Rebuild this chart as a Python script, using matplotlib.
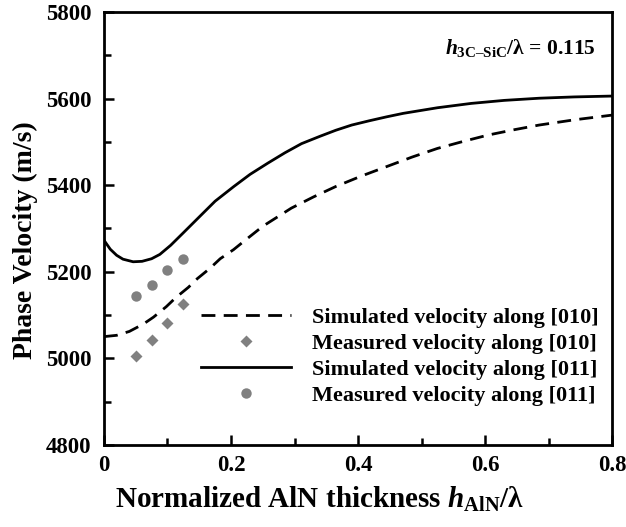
import numpy as np
import matplotlib
matplotlib.use("Agg")
import matplotlib.pyplot as plt
from matplotlib.ticker import MultipleLocator, FuncFormatter

plt.rcParams['font.family'] = ['Liberation Serif', 'DejaVu Serif']
plt.rcParams['font.weight'] = 'bold'
plt.rcParams['mathtext.fontset'] = 'custom'
plt.rcParams['mathtext.rm'] = 'Liberation Serif:bold'
plt.rcParams['mathtext.it'] = 'Liberation Serif:italic:bold'
plt.rcParams['mathtext.bf'] = 'Liberation Serif:bold'

# simulated curves
sim_010_x = [0.0, 0.02, 0.04, 0.062, 0.078, 0.098, 0.113, 0.133, 0.147, 0.167,
             0.183, 0.204, 0.22, 0.25, 0.295, 0.33, 0.365, 0.405, 0.445, 0.485,
             0.525, 0.565, 0.605, 0.645, 0.685, 0.74, 0.8]
sim_010_v = [5050, 5053, 5062, 5079, 5095, 5119, 5140, 5164, 5184, 5208,
             5230, 5251, 5270, 5305, 5347, 5373, 5397, 5421, 5443, 5465,
             5485, 5501, 5516, 5528, 5539, 5551, 5562]

sim_011_x = [0.0, 0.01, 0.02, 0.03, 0.046, 0.06, 0.075, 0.088, 0.105, 0.125,
             0.151, 0.175, 0.2045, 0.23, 0.258, 0.285, 0.311, 0.34, 0.365, 0.39,
             0.418, 0.445, 0.471, 0.525, 0.578, 0.63, 0.685, 0.74, 0.8]
sim_011_v = [5273, 5252, 5238, 5229, 5223, 5224, 5230, 5240, 5261, 5290,
             5328, 5363, 5397, 5425, 5451, 5475, 5496, 5513, 5527, 5539,
             5549, 5558, 5566, 5579, 5589, 5596, 5601, 5604, 5606]

# measured points
meas_x = [0.05, 0.075, 0.1, 0.125]
meas_010_v = [5005, 5042, 5081, 5126]
meas_011_v = [5145, 5170, 5205, 5229]

fig = plt.figure(figsize=(6.26, 5.27), dpi=100)
ax = fig.add_axes([0.166, 0.156, 0.812, 0.821])

ax.plot(sim_010_x, sim_010_v, color='black', lw=2, dashes=(5, 3),
        label='Simulated velocity along [010]')
ax.plot(meas_x, meas_010_v, 'D', color='#808080', ms=6.5, mec='none',
        label='Measured velocity along [010]')
ax.plot(sim_011_x, sim_011_v, color='black', lw=2,
        label='Simulated velocity along [011]')
ax.plot(meas_x, meas_011_v, 'o', color='#808080', ms=7.5, mec='none',
        label='Measured velocity along [011]')

ax.set_xlim(0, 0.8)
ax.set_ylim(4800, 5800)
ax.xaxis.set_major_locator(MultipleLocator(0.2))
ax.xaxis.set_minor_locator(MultipleLocator(0.1))
ax.yaxis.set_major_locator(MultipleLocator(200))
ax.yaxis.set_minor_locator(MultipleLocator(100))
ax.xaxis.set_major_formatter(FuncFormatter(lambda v, p: '0' if v == 0 else f'{v:g}'))

ax.tick_params(which='both', direction='in', top=False, right=False,
               labelsize=16.5, width=1.8)
ax.tick_params(axis='y', pad=9)
ax.tick_params(axis='x', pad=7)
ax.tick_params(which='major', length=7)
ax.tick_params(which='minor', length=5)
for s in ax.spines.values():
    s.set_linewidth(2)

ax.set_ylabel('Phase Velocity (m/s)', fontsize=20, fontweight='bold')
ax.yaxis.set_label_coords(-0.155, 0.473)
ax.set_xlabel(r'Normalized AlN thickness $\mathit{h}_{\mathrm{AlN}}$/λ',
              fontsize=21, fontweight='bold')
ax.xaxis.set_label_coords(0.425, -0.127)
ax.xaxis.label.set_va('center')
ax.yaxis.label.set_va('center')

ax.text(0.968, 0.918, '$\\mathit{h}_{\\mathrm{3C\u2013SiC}}$/λ = 0.115',
        transform=ax.transAxes, ha='right', va='center', fontsize=15.5,
        fontweight='bold')

leg = ax.legend(loc='lower right', bbox_to_anchor=(0.991, 0.069), frameon=False,
                prop={'weight': 'bold', 'size': 16}, handlelength=4.05,
                handletextpad=0.95, labelspacing=0.25, borderaxespad=0.0)
for t in leg.get_texts():
    t.set_fontweight('bold')

fig.savefig('out.png', dpi=100)
